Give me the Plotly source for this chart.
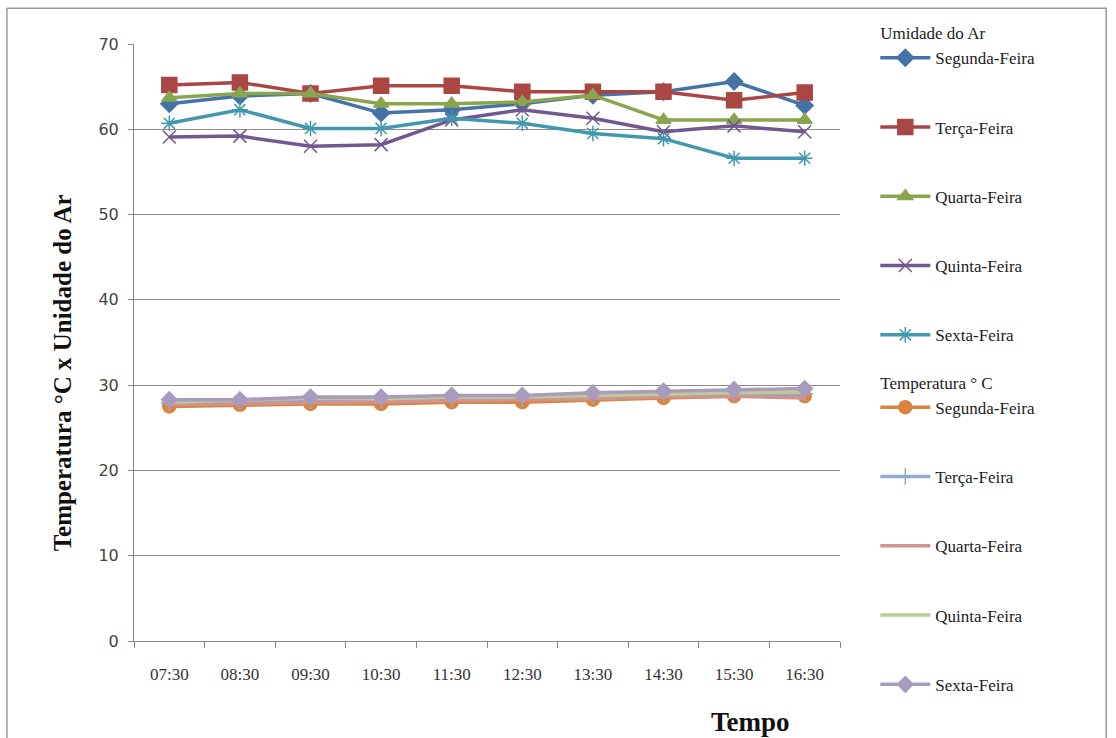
import plotly.graph_objects as go

times = ["07:30", "08:30", "09:30", "10:30", "11:30", "12:30", "13:30", "14:30", "15:30", "16:30"]
days = ["Segunda-Feira", "Terça-Feira", "Quarta-Feira", "Quinta-Feira", "Sexta-Feira"]

# Umidade do Ar
umid_seg = [63.0, 63.9, 64.2, 61.9, 62.3, 63.0, 64.0, 64.4, 65.6, 62.8]
umid_ter = [65.2, 65.5, 64.2, 65.1, 65.1, 64.4, 64.4, 64.4, 63.4, 64.3]
umid_qua = [63.7, 64.2, 64.2, 63.0, 63.0, 63.2, 64.0, 61.1, 61.1, 61.1]
umid_qui = [59.1, 59.2, 58.0, 58.2, 61.1, 62.3, 61.3, 59.7, 60.4, 59.7]
umid_sex = [60.7, 62.3, 60.1, 60.1, 61.3, 60.7, 59.5, 58.9, 56.6, 56.6]

# Temperatura °C
temp_seg = [27.5, 27.7, 27.8, 27.8, 28.0, 28.0, 28.3, 28.5, 28.7, 28.7]
temp_ter = [27.9, 28.0, 28.2, 28.2, 28.4, 28.4, 28.7, 28.9, 29.0, 29.0]
temp_qua = [27.7, 27.8, 27.9, 28.0, 28.1, 28.2, 28.4, 28.6, 28.7, 28.5]
temp_qui = [28.0, 28.2, 28.5, 28.4, 28.6, 28.6, 28.8, 29.0, 29.1, 29.2]
temp_sex = [28.3, 28.3, 28.6, 28.6, 28.8, 28.8, 29.1, 29.3, 29.5, 29.6]

umid_series = [umid_seg, umid_ter, umid_qua, umid_qui, umid_sex]
temp_series = [temp_seg, temp_ter, temp_qua, temp_qui, temp_sex]

umid_colors = ["#4572A7", "#AA4643", "#89A54E", "#71588F", "#4198AF"]
temp_colors = ["#DB843D", "#93A9CF", "#D19392", "#B9CD96", "#A99BBD"]
umid_symbols = ["diamond", "square", "triangle-up", "x-thin-open", "asterisk-open"]
umid_sizes = [13, 15, 13, 13, 13]
temp_symbols = ["circle", "cross-thin-open", None, None, "diamond"]
temp_sizes = [13, 12, 0, 0, 12]

PAD = "<br> <br> "
fig = go.Figure()
for i, d in enumerate(days):
    pad = PAD if i < 4 else "<br> "
    fig.add_trace(go.Scatter(
        x=times, y=umid_series[i], name=d + pad,
        mode="lines+markers",
        line=dict(color=umid_colors[i], width=3.5),
        marker=dict(symbol=umid_symbols[i], size=umid_sizes[i], color=umid_colors[i],
                    line=dict(color=umid_colors[i], width=1.5)),
        legendgroup="umid", legendgrouptitle=dict(text="Umidade do Ar"),
    ))
for i, d in enumerate(days):
    pad = PAD if i < 4 else ""
    if temp_symbols[i] is None:
        mode = "lines"
        marker = None
    else:
        mode = "lines+markers"
        marker = dict(symbol=temp_symbols[i], size=temp_sizes[i], color=temp_colors[i],
                      line=dict(color=temp_colors[i], width=1.5))
    fig.add_trace(go.Scatter(
        x=times, y=temp_series[i], name=d + pad,
        mode=mode,
        line=dict(color=temp_colors[i], width=3.5),
        marker=marker,
        legendgroup="temp", legendgrouptitle=dict(text="Temperatura ° C"),
    ))

serif = "Liberation Serif, Times New Roman, serif"
fig.update_layout(
    width=1116, height=738,
    margin=dict(l=134, r=276, t=44, b=97),
    paper_bgcolor="white", plot_bgcolor="white",
    showlegend=True,
    legend=dict(
        x=1.050, xanchor="left", y=1.0486, yanchor="top",
        font=dict(family=serif, size=17, color="#222"),
        grouptitlefont=dict(family=serif, size=17, color="#222"),
        valign="top", tracegroupgap=0, itemwidth=50,
        bgcolor="rgba(0,0,0,0)", maxheight=730,
    ),
    xaxis=dict(
        type="category", tickson="boundaries", ticks="outside", ticklen=6,
        tickcolor="#888", showline=True, linecolor="#888", linewidth=1,
        showgrid=False, tickfont=dict(family=serif, size=17, color="#333"),
        ticklabelstandoff=18,
        range=[-0.5, 9.5],
    ),
    yaxis=dict(
        range=[0, 70], dtick=10, ticks="outside", ticklen=5, tickcolor="#888",
        showline=True, linecolor="#888", linewidth=1,
        showgrid=True, gridcolor="#8c8c8c", gridwidth=1,
        tickfont=dict(family="DejaVu Sans, Verdana, sans-serif", size=16, color="#444"),
        ticklabelstandoff=6,
        zeroline=False,
    ),
    annotations=[
        dict(text="<b>Temperatura °C x Unidade do Ar</b>", xref="paper", yref="paper",
             x=-0.102, y=0.45, xanchor="center", yanchor="middle", textangle=-90,
             showarrow=False, font=dict(family=serif, size=25, color="#111")),
        dict(text="<b>Tempo</b>", xref="paper", yref="paper",
             x=0.873, y=-0.135, xanchor="center", yanchor="middle", showarrow=False,
             font=dict(family=serif, size=27, color="#111")),
    ],
    shapes=[
        dict(type="rect", xref="paper", yref="paper",
             x0=-0.18, x1=1.377, y0=-0.2, y1=1.06,
             line=dict(color="#9a9a9a", width=1.5), fillcolor="rgba(0,0,0,0)"),
    ],
)

fig.write_html("out.html")
